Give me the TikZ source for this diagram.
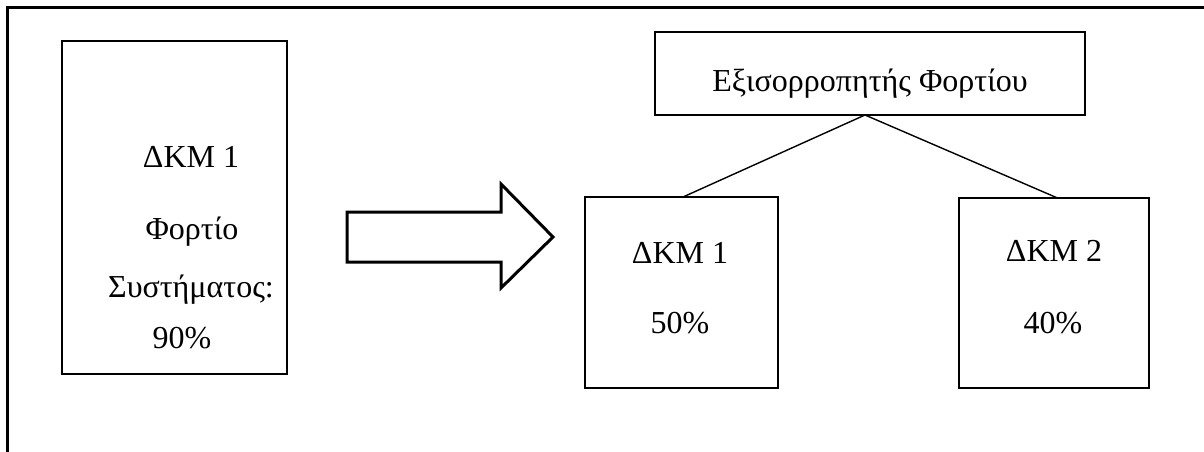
\documentclass[tikz,border=0pt]{standalone}
\usepackage{fontspec}
\setmainfont{Liberation Serif}
\begin{document}
\begin{tikzpicture}[x=1pt,y=-1pt,
  box/.style={draw, line width=2.9pt, inner sep=0pt, outer sep=0pt, anchor=north west},
  lbl/.style={font=\fontsize{32}{38}\selectfont, inner sep=0pt, anchor=base},
  link/.style={line width=1.4pt},
  frame/.style={line width=3pt},
  blockarrow/.style={draw, line width=3pt, line join=miter}]
\useasboundingbox (0,0) rectangle (1204,452);

% page frame: top rule and left rule
\draw[frame] (7.5,452) -- (7.5,7.5) -- (1204,7.5);

% system before balancing
\node[box, minimum width=225pt, minimum height=333pt] (src) at (62,41) {};
\node[lbl] (srcA) at (191,167) {ΔΚΜ 1};
\node[lbl] (srcB) at (192,239) {Φορτίο};
\node[lbl] (srcC) at (191,297) {Συστήματος:};
\node[lbl] (srcD) at (182,348) {90\%};

% block arrow
\draw[blockarrow] (347,212) -- (501,212) -- (501,184) -- (553,237)
  -- (501,288) -- (501,262) -- (347,262) -- cycle;

% load balancer
\node[box, minimum width=430pt, minimum height=83pt] (bal) at (655,32) {};
\node[lbl] (balT) at (870,92) {Εξισορροπητής Φορτίου};

% servers after balancing
\node[box, minimum width=193pt, minimum height=191pt] (n1) at (585,197) {};
\node[lbl] (n1A) at (680,263) {ΔΚΜ 1};
\node[lbl] (n1B) at (680,333) {50\%};

\node[box, minimum width=190pt, minimum height=190pt] (n2) at (959,198) {};
\node[lbl] (n2A) at (1054,261) {ΔΚΜ 2};
\node[lbl] (n2B) at (1053,333) {40\%};

% links from the balancer
\draw[link] ([xshift=-5pt]bal.south) -- ([xshift=1.5pt]n1.north);
\draw[link] ([xshift=-5pt]bal.south) -- ([xshift=3.5pt]n2.north);
\end{tikzpicture}
\end{document}
